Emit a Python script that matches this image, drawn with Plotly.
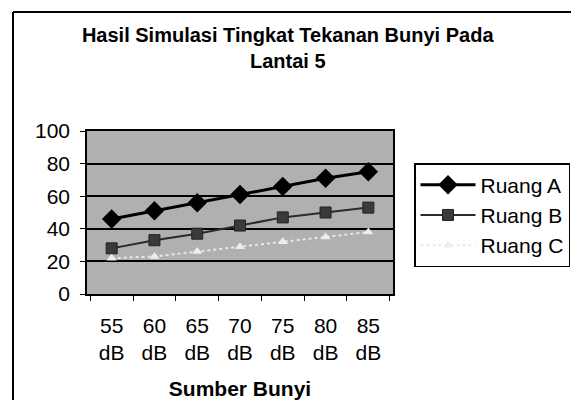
import plotly.graph_objects as go

categories = ["55<br>dB", "60<br>dB", "65<br>dB", "70<br>dB", "75<br>dB", "80<br>dB", "85<br>dB"]
ruang_a = [46, 51, 56, 61, 66, 71, 75]
ruang_b = [28, 33, 37, 42, 47, 50, 53]
ruang_c = [22, 23, 26, 29, 32, 35, 38]
y_ticks = [0, 20, 40, 60, 80, 100]

W, H = 572, 400
L, R, T, B = 87, 393, 131, 294  # plot area in pixels

def px_x(px):
    return (px - L) / (R - L)

def px_y(py):
    return (B - py) / (B - T)

fig = go.Figure()
fig.add_trace(go.Scatter(
    x=categories, y=ruang_a, name="Ruang A", mode="lines+markers",
    line=dict(color="black", width=3),
    marker=dict(symbol="diamond", size=15, color="black"),
))
fig.add_trace(go.Scatter(
    x=categories, y=ruang_b, name="Ruang B", mode="lines+markers",
    line=dict(color="#2a2a2a", width=2),
    marker=dict(symbol="square", size=11, color="#3a3a3a", line=dict(color="#222", width=1)),
))
fig.add_trace(go.Scatter(
    x=categories, y=ruang_c, name="Ruang C", mode="lines+markers",
    line=dict(color="#e8e8e8", width=2, dash="dot"),
    marker=dict(symbol="triangle-up", size=9, color="#ededed"),
))

font = "Liberation Sans, Arial, sans-serif"

border = dict(color="black", width=2)
fig.update_layout(
    width=W, height=H,
    margin=dict(l=L, r=W - R, t=T, b=H - B, autoexpand=False),
    paper_bgcolor="white",
    plot_bgcolor="#b0b0b0",
    font=dict(family=font, color="black", size=21),
    title=dict(
        text="<b>Hasil Simulasi Tingkat Tekanan Bunyi Pada<br>Lantai 5</b>",
        x=0.503, xref="container", xanchor="center",
        y=1 - 42 / H, yref="container", yanchor="top",
        font=dict(size=20, family=font, color="black"),
    ),
    showlegend=True,
    legend=dict(
        x=px_x(414), y=px_y(163), xanchor="left", yanchor="top",
        bgcolor="white", bordercolor="black", borderwidth=1.5,
        font=dict(size=21, family=font, color="black"),
        itemwidth=55,
    ),
    xaxis=dict(
        type="category", tickson="boundaries", ticks="outside", ticklen=5,
        tickcolor="black", showline=True, linecolor="black", linewidth=1.5,
        mirror=True, showgrid=False, tickfont=dict(size=21),
        ticklabelstandoff=12, automargin=False,
        title=dict(text="<b>Sumber Bunyi</b>", font=dict(size=21), standoff=21),
    ),
    yaxis=dict(
        range=[0, 100], tickvals=y_ticks, ticks="outside", ticklen=5,
        tickcolor="black", showline=True, linecolor="black", linewidth=1.5,
        mirror=True, showgrid=True, gridcolor="black", gridwidth=1.5,
        zeroline=False, tickfont=dict(size=21), ticklabelstandoff=6,
        automargin=False,
    ),
    shapes=[
        dict(type="line", xref="paper", yref="paper",
             x0=px_x(13), x1=px_x(571), y0=px_y(12), y1=px_y(12), line=border),
        dict(type="line", xref="paper", yref="paper",
             x0=px_x(13), x1=px_x(13), y0=px_y(12), y1=px_y(400), line=border),
    ],
)

fig.write_html(
    "out.html",
    config={"displayModeBar": False},
    post_script="document.body.style.margin='0';document.body.style.overflow='hidden';",
)
